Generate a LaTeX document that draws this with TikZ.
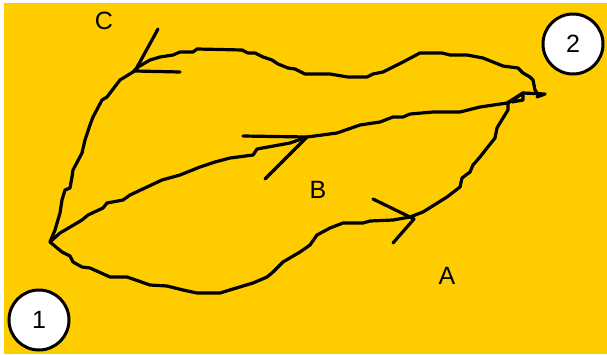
\documentclass[tikz,border=0pt]{standalone}
\usepackage{fontspec}
\setmainfont{Liberation Sans}
\definecolor{gold}{RGB}{255,204,0}
\begin{document}
\begin{tikzpicture}[x=1pt,y=-1pt,
  wiggle/.style={line width=3.2pt,line join=round,line cap=round},
  numcircle/.style={circle,draw,line width=3pt,fill=white,minimum size=60pt,inner sep=0pt,font=\fontsize{25}{25}\selectfont},
  letter/.style={inner sep=0pt,font=\fontsize{25}{25}\selectfont}]
\useasboundingbox (0,0) rectangle (607,354);
\fill[white] (0,0) rectangle (607,354);
\fill[gold] (4,3) rectangle (607,354);

% end points shared by the three routes
\coordinate (west) at (50,242);
\coordinate (east) at (523,93);

% route A (lower)
\draw[wiggle] (west) -- (62,252) -- (70,256) -- (73,262) -- (82,267) -- (90,268)
  -- (110,277) -- (127,277) -- (150,285) -- (167,286) -- (183,290) -- (197,293)
  -- (220,293) -- (233,289) -- (253,283) -- (267,277) -- (273,272) -- (283,262)
  -- (300,252) -- (310,245) -- (317,235) -- (330,228) -- (343,223) -- (363,223)
  -- (370,221) -- (393,220) -- (410,217) -- (423,212) -- (447,197) -- (460,187)
  -- (462,178) -- (470,172) -- (473,165) -- (480,157) -- (487,148) -- (495,138)
  -- (497,128) -- (503,118) -- (508,110) -- (508,103) -- (513,100) -- (east);

% route B (middle)
\draw[wiggle] (west) -- (60,233) -- (77,223) -- (82,220) -- (88,215) -- (103,208)
  -- (107,203) -- (123,200) -- (130,195) -- (147,187) -- (162,180) -- (180,175)
  -- (200,167) -- (215,162) -- (230,158) -- (253,155) -- (257,149) -- (290,143)
  -- (307,137) -- (337,133) -- (360,125) -- (380,122) -- (393,117) -- (403,117)
  -- (410,114) -- (433,112) -- (460,112) -- (480,107) -- (507,103) -- (east)
  -- (523,100) -- (512,102);

% route C (upper)
\draw[wiggle] (west) -- (55,230) -- (60,213) -- (62,200) -- (65,190) -- (70,188)
  -- (72,177) -- (73,170) -- (82,153) -- (85,140) -- (90,125) -- (93,117)
  -- (102,100) -- (107,97) -- (120,80) -- (133,72) -- (138,67) -- (150,60)
  -- (160,57) -- (173,55) -- (180,52) -- (193,52) -- (197,49) -- (242,50)
  -- (248,53) -- (255,53) -- (263,57) -- (272,60) -- (278,64) -- (288,68)
  -- (295,69) -- (305,74) -- (330,74) -- (348,77) -- (367,77) -- (373,74)
  -- (383,72) -- (403,62) -- (420,53) -- (442,53) -- (450,55) -- (467,55)
  -- (483,58) -- (493,62) -- (503,66) -- (518,68) -- (523,73) -- (530,77)
  -- (533,80) -- (535,90) -- (537,93);
\draw[wiggle] (east) -- (545,94) -- (537,97);

% direction marks
\coordinate (tipC) at (135,71);
\draw[wiggle] (158,29) -- (tipC) -- (180,72);
\coordinate (tipB) at (307,137);
\draw[wiggle] (243,136) -- (tipB) -- (265,179);
\coordinate (tipA) at (414,219);
\draw[wiggle] (373,199) -- (tipA) -- (393,243);

% labels
\node[letter] (lC) at (104,21) {C};
\node[letter] (lB) at (318,190) {B};
\node[letter] (lA) at (447,276) {A};

% numbered circles
\node[numcircle] (n1) at (39,320) {1};
\node[numcircle] (n2) at (573,44) {2};
\end{tikzpicture}
\end{document}
